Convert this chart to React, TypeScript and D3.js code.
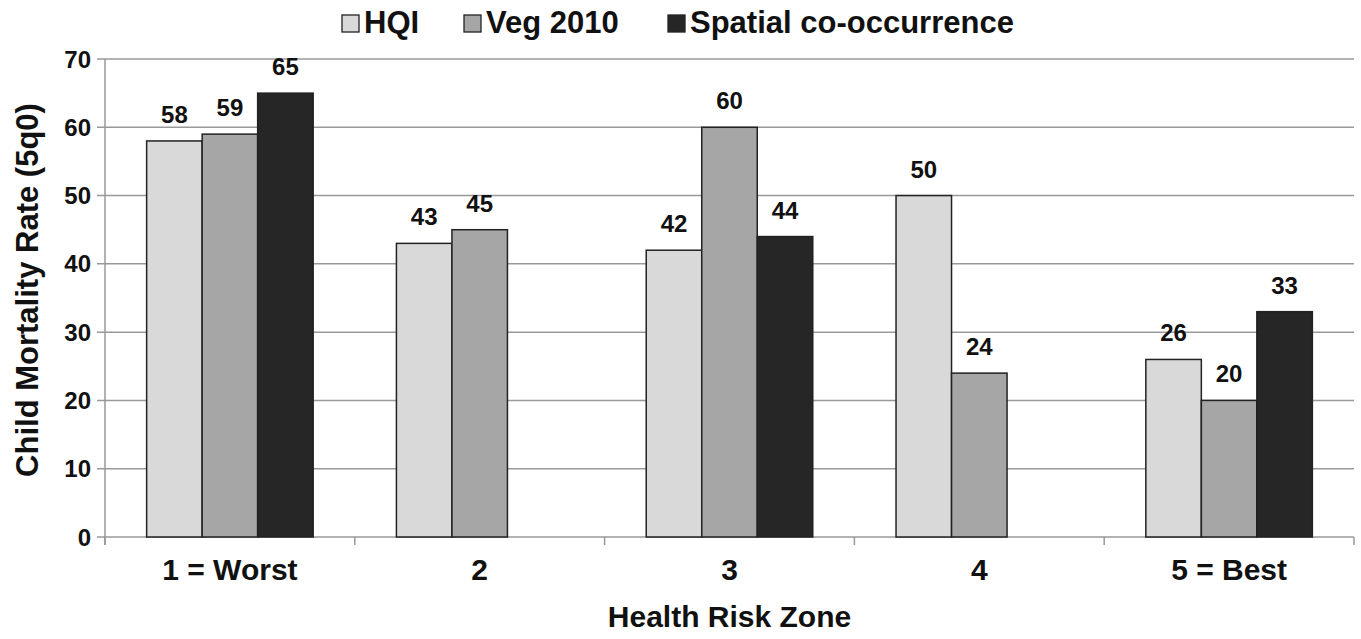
import React from 'react';
import * as d3 from 'd3';

const zones = ['1 = Worst', '2', '3', '4', '5 = Best'];
const seriesNames = ['HQI', 'Veg 2010', 'Spatial co-occurrence'];
const hqi = [58, 43, 42, 50, 26];
const veg = [59, 45, 60, 24, 20];
const spatial: (number | null)[] = [65, null, 44, null, 33];
const yTicks = [0, 10, 20, 30, 40, 50, 60, 70];
const colors = ['#d9d9d9', '#a6a6a6', '#262626'];

const W = 1361;
const H = 639;
const left = 105;
const right = 1354;
const top = 59;
const bottom = 537;
const font = 'Liberation Sans, Arial, sans-serif';

export default function App() {
  const series = [hqi, veg, spatial];
  const x = d3.scaleBand().domain(zones).range([left, right]);
  // bars sit in the middle of each zone, with the empty slots kept
  const inner = d3.scaleBand().domain(seriesNames).range([0, x.bandwidth()]).paddingOuter(0.75);
  const y = d3.scaleLinear().domain([0, 70]).range([bottom, top]);

  const legendX = [342, 464, 668];

  return (
    <svg width={W} height={H} style={{ position: 'absolute', left: 0, top: 0, background: '#fff' }}>
      {yTicks.map(t => (
        <g key={t}>
          <line x1={left - 8} x2={right} y1={y(t)} y2={y(t)} stroke="#999" strokeWidth={1.5} />
          <text x={91} y={y(t)} dy="0.36em" textAnchor="end" fontFamily={font} fontWeight="bold" fontSize={24} fill="#111">{t}</text>
        </g>
      ))}
      <line x1={left} x2={left} y1={top} y2={bottom + 8} stroke="#999" strokeWidth={1.5} />
      {zones.map((z, i) => (
        <line key={'tk' + i} x1={x(z) as number} x2={x(z) as number} y1={bottom} y2={bottom + 8} stroke="#999" strokeWidth={1.5} />
      ))}
      <line x1={right} x2={right} y1={bottom} y2={bottom + 8} stroke="#999" strokeWidth={1.5} />
      {series.map((vals, si) =>
        vals.map((v, i) => {
          if (v === null) return null;
          const bx = (x(zones[i]) as number) + (inner(seriesNames[si]) as number);
          return (
            <g key={si + '-' + i}>
              <rect x={bx} y={y(v)} width={inner.bandwidth()} height={bottom - y(v)} fill={colors[si]} stroke="#222" strokeWidth={1.5} />
              <text x={bx + inner.bandwidth() / 2} y={y(v) - 18} textAnchor="middle" fontFamily={font} fontWeight="bold" fontSize={24} fill="#111">{v}</text>
            </g>
          );
        })
      )}
      {zones.map(z => (
        <text key={z} x={(x(z) as number) + x.bandwidth() / 2} y={580} textAnchor="middle" fontFamily={font} fontWeight="bold" fontSize={30} fill="#111">{z}</text>
      ))}
      <text x={(left + right) / 2} y={627} textAnchor="middle" fontFamily={font} fontWeight="bold" fontSize={30} fill="#111">Health Risk Zone</text>
      <text transform={`translate(38,${290}) rotate(-90)`} textAnchor="middle" fontFamily={font} fontWeight="bold" fontSize={31} fill="#111">Child Mortality Rate (5q0)</text>
      {seriesNames.map((s, si) => (
        <g key={s}>
          <rect x={legendX[si]} y={15} width={17} height={17} fill={colors[si]} stroke="#222" strokeWidth={1.3} />
          <text x={legendX[si] + 22} y={33} fontFamily={font} fontWeight="bold" fontSize={31} fill="#111">{s}</text>
        </g>
      ))}
    </svg>
  );
}
